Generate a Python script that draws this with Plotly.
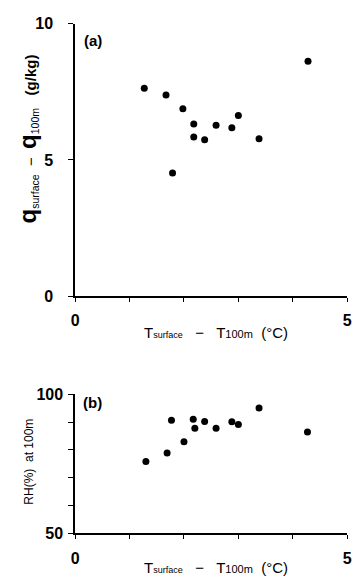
import plotly.graph_objects as go

W, H = 359, 580

# Panel (a): q_surface - q_100m vs T_surface - T_100m
dT_a = [1.27, 1.67, 1.79, 1.98, 2.18, 2.18, 2.38, 2.59, 2.88, 3.00, 3.38, 4.28]
dq_a = [7.63, 7.38, 4.52, 6.88, 6.32, 5.84, 5.74, 6.27, 6.18, 6.63, 5.78, 8.62]

# Panel (b): RH at 100 m vs T_surface - T_100m
dT_b = [1.30, 1.69, 1.77, 2.00, 2.17, 2.20, 2.38, 2.59, 2.88, 3.00, 3.38, 4.27]
rh_b = [75.8, 78.9, 90.7, 82.9, 91.0, 87.8, 90.2, 87.8, 90.1, 89.1, 95.1, 86.4]

x_ticks = [0, 5]
x_minor = [1, 2, 3, 4]
ya_ticks = [0, 5, 10]
yb_ticks = [50, 100]
yb_minor = [60, 70, 80, 90]

FONT = "Liberation Sans, Arial, sans-serif"

def px_x(p):
    return p / W

def px_y(p):
    return (H - p) / H

fig = go.Figure()
mk = dict(color="black", size=7, line=dict(width=0))
fig.add_trace(go.Scatter(x=dT_a, y=dq_a, mode="markers", marker=mk, xaxis="x", yaxis="y", showlegend=False))
fig.add_trace(go.Scatter(x=dT_b, y=rh_b, mode="markers", marker=mk, xaxis="x2", yaxis="y2", showlegend=False))

xdom = [px_x(73), px_x(352)]
common_ax = dict(showline=True, linecolor="black", linewidth=1.6, ticks="outside",
                 tickcolor="black", tickwidth=1.3, showgrid=False, zeroline=False,
                 tickfont=dict(family=FONT, size=16, color="black", weight="bold"))

def minor(vals, ln):
    return dict(tickmode="array", tickvals=vals, ticks="outside", ticklen=ln,
                tickcolor="black", tickwidth=1.3, showgrid=False)

fig.update_layout(
    width=W, height=H, margin=dict(l=0, r=0, t=0, b=0),
    paper_bgcolor="white", plot_bgcolor="white",
    xaxis=dict(domain=xdom, range=[0, 5], tickmode="array", tickvals=x_ticks, ticklen=4,
               ticklabelstandoff=5, minor=minor(x_minor, 4), anchor="y", **common_ax),
    yaxis=dict(domain=[px_y(297), px_y(16)], range=[0, 10], tickmode="array", tickvals=ya_ticks,
               ticklen=5, ticklabelstandoff=12, anchor="x", **common_ax),
    xaxis2=dict(domain=xdom, range=[0, 5], tickmode="array", tickvals=x_ticks, ticklen=4,
                ticklabelstandoff=6, minor=minor(x_minor, 4), anchor="y2", **common_ax),
    yaxis2=dict(domain=[px_y(541), px_y(398)], range=[50, 100], tickmode="array", tickvals=yb_ticks,
                ticklen=5, ticklabelstandoff=2, minor=minor(yb_minor, 5), anchor="x2", **common_ax),
)

xtitle = ("T<span style='font-size:9px'>surface</span>   −   "
          "T<span style='font-size:11px'>100m</span>  (°C)")

ann = [
    dict(text="<b>(a)</b>", x=px_x(91), y=px_y(33), font=dict(size=15)),
    dict(text="<b>(b)</b>", x=px_x(91), y=px_y(406), font=dict(size=15)),
    dict(text=xtitle, x=px_x(217), y=px_y(334), font=dict(size=15)),
    dict(text=xtitle, x=px_x(217), y=px_y(576), font=dict(size=15)),
    dict(text="<b><span style='font-size:24px'>q</span></b><sub>surface</sub>  −  "
              "<b><span style='font-size:24px'>q</span></b><sub>100m</sub>   <b>(g/kg)</b>",
         x=px_x(24), y=px_y(135), textangle=-90, font=dict(size=15)),
    dict(text="RH(%)  at 100m", x=px_x(26), y=px_y(467), textangle=-90, font=dict(size=12)),
]
for a in ann:
    a.update(xref="paper", yref="paper", showarrow=False, xanchor="center", yanchor="middle")
    a["font"].update(family=FONT, color="black")
fig.update_layout(annotations=ann)

fig.write_html("out.html")
